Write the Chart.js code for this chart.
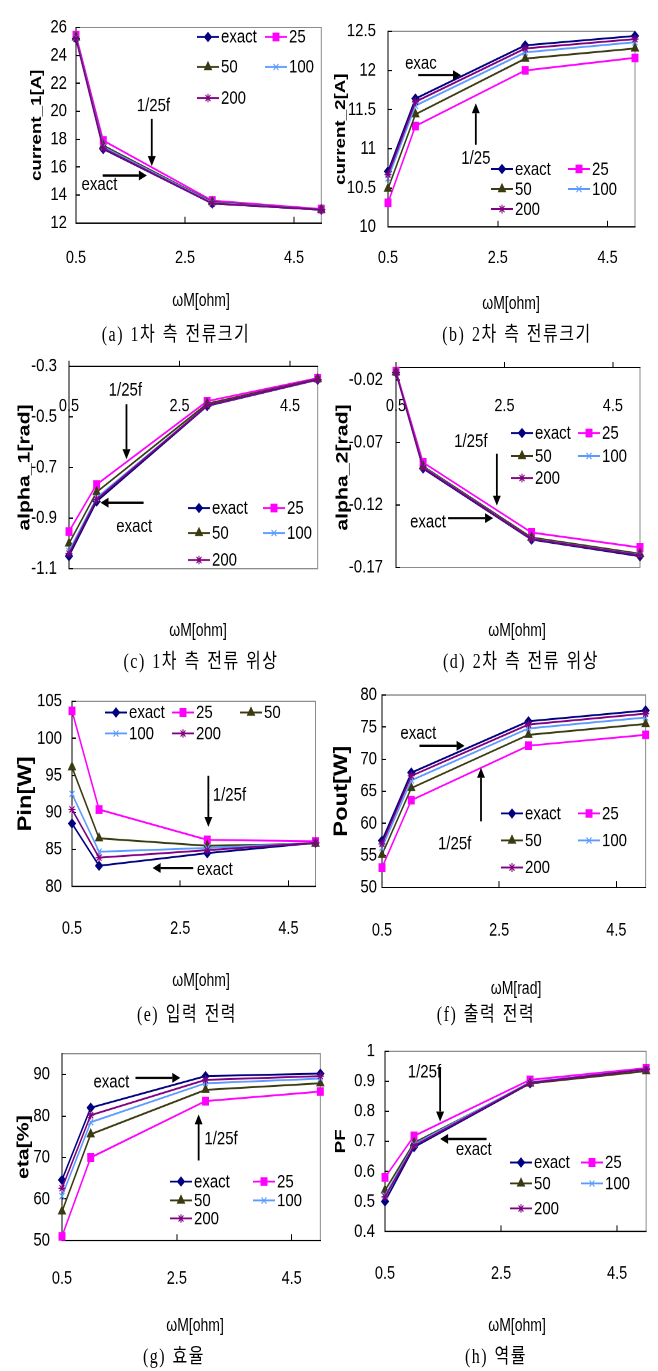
<!DOCTYPE html>
<html>
<head>
<meta charset="utf-8">
<script src="https://cdn.jsdelivr.net/npm/chart.js@4.4.1/dist/chart.umd.min.js"></script>
<style>
  body { margin: 0; background: #fff; width: 658px; height: 1371px; overflow: hidden; position: relative; }
  #wrap { position: absolute; left: 0; top: 0; width: 658px; transform-origin: 0 0; }
  .pane { position: absolute; }
  .xt { position: absolute; transform: translate(-50%, -50%); white-space: nowrap;
        font-family: "Liberation Sans", Arial, sans-serif; font-size: 14px; color: #000; }
  .cap { position: absolute; transform: translate(-50%, -50%); white-space: nowrap;
         font-family: "Liberation Serif", "Noto Sans CJK KR", serif; font-size: 16px;
         letter-spacing: 1.5px; word-spacing: 1px; color: #000; }
</style>
</head>
<body>
<div id="wrap"></div>
<script>
// the source picture is stretched vertically, so everything is drawn flat and scaled in y
const S = 1.25

/* DATA */
const wM = [0.5, 1, 3, 5]
const xTicks = [0.5, 2.5, 4.5]
const seriesNames = ["exact", "25", "50", "100", "200"]

// rows follow seriesNames: exact, 25, 50, 100, 200
const current1 = [
    [25.2, 17.3, 13.4, 12.95],
    [25.45, 17.9, 13.6, 13.0],
    [25.3, 17.55, 13.5, 12.95],
    [25.25, 17.45, 13.45, 12.95],
    [25.2, 17.35, 13.4, 12.95]
]
const current1Ticks = [12, 14, 16, 18, 20, 22, 24, 26]

const current2 = [
    [10.71, 11.64, 12.32, 12.44],
    [10.31, 11.29, 12.0, 12.16],
    [10.49, 11.44, 12.15, 12.28],
    [10.62, 11.55, 12.23, 12.36],
    [10.67, 11.6, 12.28, 12.4]
]
const current2Ticks = [10, 10.5, 11, 11.5, 12, 12.5]

const alpha1 = [
    [-1.05, -0.834, -0.457, -0.353],
    [-0.953, -0.767, -0.438, -0.347],
    [-1.0, -0.797, -0.448, -0.35],
    [-1.03, -0.82, -0.455, -0.352],
    [-1.04, -0.826, -0.455, -0.352]
]
const alpha1Ticks = [-1.1, -0.9, -0.7, -0.5, -0.3]

const alpha2 = [
    [-0.014, -0.0908, -0.1477, -0.161],
    [-0.0128, -0.086, -0.142, -0.154],
    [-0.0138, -0.089, -0.146, -0.159],
    [-0.014, -0.0898, -0.147, -0.16],
    [-0.014, -0.0902, -0.1472, -0.1603]
]
const alpha2Ticks = [-0.17, -0.12, -0.07, -0.02]

const pIn = [
    [88.5, 82.8, 84.5, 85.9],
    [103.7, 90.4, 86.3, 86.1],
    [96.1, 86.5, 85.5, 85.8],
    [92.5, 84.7, 85.2, 85.9],
    [90.4, 83.9, 84.9, 85.9]
]
const pInTicks = [80, 85, 90, 95, 100, 105]

const pOut = [
    [57.3, 67.9, 75.9, 77.6],
    [53.1, 63.6, 72.1, 73.8],
    [55.1, 65.5, 73.8, 75.5],
    [56.2, 66.7, 74.8, 76.5],
    [56.8, 67.4, 75.4, 77.1]
]
const pOutTicks = [50, 55, 60, 65, 70, 75, 80]

const eta = [
    [64.6, 82.0, 89.6, 90.2],
    [51.0, 70.0, 83.6, 85.9],
    [57.0, 75.6, 86.3, 87.9],
    [60.7, 78.5, 87.9, 89.0],
    [62.6, 80.2, 88.7, 89.6]
]
const etaTicks = [50, 60, 70, 80, 90]

const pf = [
    [0.5, 0.681, 0.893, 0.941],
    [0.58, 0.718, 0.905, 0.944],
    [0.537, 0.695, 0.893, 0.934],
    [0.52, 0.69, 0.897, 0.94],
    [0.515, 0.685, 0.895, 0.94]
]
const pfTicks = [0.4, 0.5, 0.6, 0.7, 0.8, 0.9, 1]

/* LOOK */
const seriesLook = [
    {color: "#000080", style: "rectRot", radius: 3.5},
    {color: "#ff00ff", style: "rect", radius: 4.2},
    {color: "#3b3b12", style: "triangle", radius: 4},
    {color: "#5b9bff", style: "crossRot", radius: 3.5},
    {color: "#800080", style: "star", radius: 3.5}
]
const FONT = "\"Liberation Sans\", Arial, sans-serif"

// page coordinates below are measured on the (stretched) picture
const panels = [
    {box: {x: 0, y: 0, w: 329, h: 285}, plot: {l: 76, t: 17, r: 326, b: 223}, xLabelY: 258,
     values: current1, yTicks: current1Ticks, yMax: 26, title: "current_1[A]", titleSize: 15, titleX: 37, tickPad: 9,
     legend: {cols: [197, 265], rows: [37, 67, 98]},
     notes: [["1/25f", 1.92, 20.36], ["exact", 0.93, 14.72]],
     arrows: [[1.89, 19.47, 1.89, 16.07], [0.99, 15.4, 1.8, 15.4]],
     xTitle: "ωM[ohm]", xTitlePos: [201, 300], caption: "(a) 1차 측 전류크기", capPos: [176, 332]},
    {box: {x: 329, y: 0, w: 329, h: 285}, plot: {l: 388, t: 14, r: 635, b: 227}, xLabelY: 258,
     values: current2, yTicks: current2Ticks, yMax: 12.5, title: "current_2[A]", titleSize: 15, titleX: 341, tickPad: 12,
     legend: {cols: [491, 568], rows: [169, 189, 209]},
     notes: [["exac", 1.1, 12.09], ["1/25", 2.1, 10.87]],
     arrows: [[1.05, 11.94, 1.83, 11.94], [2.1, 11.05, 2.1, 11.58]],
     xTitle: "ωM[ohm]", xTitlePos: [511, 303], caption: "(b) 2차 측 전류크기", capPos: [517, 332]},
    {box: {x: 0, y: 335, w: 329, h: 265}, plot: {l: 69, t: 362, r: 328, b: 580}, xLabelY: 402, topAxis: true,
     values: alpha1, yTicks: alpha1Ticks, yMax: -0.3, title: "alpha_1[rad]", titleSize: 17, titleX: 25, tickPad: 12,
     legend: {cols: [188, 263], rows: [508, 533, 560]},
     notes: [["1/25f", 1.52, -0.395], ["exact", 1.68, -0.935]],
     arrows: [[1.54, -0.45, 1.54, -0.667], [1.85, -0.839, 1.07, -0.839]],
     xTitle: "ωM[ohm]", xTitlePos: [198, 630], caption: "(c) 1차 측 전류 위상", capPos: [201, 659]},
    {box: {x: 329, y: 335, w: 329, h: 265}, plot: {l: 396, t: 359, r: 640, b: 582}, xLabelY: 398, topAxis: true,
     values: alpha2, yTicks: alpha2Ticks, yMax: -0.01, title: "alpha_2[rad]", titleSize: 17, titleX: 343, tickPad: 13,
     legend: {cols: [511, 578], rows: [433, 456, 478]},
     notes: [["1/25f", 1.88, -0.0696], ["exact", 1.09, -0.1341]],
     arrows: [[2.36, -0.0789, 2.36, -0.1205], [1.46, -0.1305, 2.29, -0.1305]],
     xTitle: "ωM[ohm]", xTitlePos: [517, 630], caption: "(d) 2차 측 전류 위상", capPos: [521, 659]},
    {box: {x: 0, y: 672, w: 329, h: 278}, plot: {l: 72, t: 687, r: 329, b: 886}, xLabelY: 928,
     values: pIn, yTicks: pInTicks, yMax: 105, title: "Pin[W]", titleSize: 19, titleX: 26, tickPad: 10,
     legend: {cols: [105, 172, 240], rows: [712, 733]},
     notes: [["1/25f", 3.41, 92.3], ["exact", 3.14, 82.26]],
     arrows: [[3.02, 94.95, 3.02, 88.04], [2.74, 82.5, 1.99, 82.5]],
     xTitle: "ωM[ohm]", xTitlePos: [201, 980], caption: "(e) 입력 전력", capPos: [187, 1013]},
    {box: {x: 329, y: 672, w: 329, h: 278}, plot: {l: 382, t: 686, r: 650, b: 887}, xLabelY: 930,
     values: pOut, yTicks: pOutTicks, yMax: 80, title: "Pout[W]", titleSize: 19, titleX: 342, tickPad: 5,
     legend: {cols: [501, 578], rows: [813, 840, 867]},
     notes: [["exact", 1.12, 74.03], ["1/25f", 1.74, 56.72]],
     arrows: [[1.14, 72.09, 1.91, 72.09], [2.19, 60.3, 2.19, 68.66]],
     xTitle: "ωM[rad]", xTitlePos: [516, 987], caption: "(f) 출력 전력", capPos: [486, 1013]},
    {box: {x: 0, y: 1022, w: 329, h: 273}, plot: {l: 62, t: 1037, r: 329, b: 1240}, xLabelY: 1278,
     values: eta, yTicks: etaTicks, yMax: 95, title: "eta[%]", titleSize: 17, titleX: 24, tickPad: 12,
     legend: {cols: [170, 253], rows: [1181, 1200, 1218]},
     notes: [["exact", 1.36, 88.1], ["1/25f", 3.27, 74.4]],
     arrows: [[1.78, 89.2, 2.56, 89.2], [2.88, 69.3, 2.88, 80.4]],
     xTitle: "ωM[ohm]", xTitlePos: [195, 1325], caption: "(g) 효율", capPos: [174, 1354]},
    {box: {x: 329, y: 1022, w: 329, h: 273}, plot: {l: 385, t: 1036, r: 650, b: 1231}, xLabelY: 1273,
     values: pf, yTicks: pfTicks, yMax: 1, title: "PF", titleSize: 15, titleX: 341, tickPad: 10,
     legend: {cols: [510, 581], rows: [1162, 1183, 1208]},
     notes: [["1/25f", 1.18, 0.929], ["exact", 2.03, 0.671]],
     arrows: [[1.45, 0.948, 1.45, 0.766], [2.25, 0.708, 1.45, 0.708]],
     xTitle: "ωM[ohm]", xTitlePos: [517, 1325], caption: "(h) 역률", capPos: [496, 1354]}
]

function u(v) { return v / S }

function fmt(v) { return String(Math.round(v * 1000) / 1000) }

function marker(ctx, look, x, y) {
    if (Chart.helpers && Chart.helpers.drawPoint) {
        Chart.helpers.drawPoint(ctx, {pointStyle: look.style, radius: look.radius, rotation: 0, borderWidth: 1}, x, y)
    } else {
        ctx.fillRect(x - 3, y - 3, 6, 6)
    }
}

function drawArrow(ctx, x1, y1, x2, y2) {
    const ang = Math.atan2(y2 - y1, x2 - x1)
    const hl = 8, hw = 4
    const bx = x2 - hl * Math.cos(ang), by = y2 - hl * Math.sin(ang)
    ctx.lineWidth = 1.8
    ctx.beginPath(); ctx.moveTo(x1, y1); ctx.lineTo(bx, by); ctx.stroke()
    ctx.beginPath()
    ctx.moveTo(x2, y2)
    ctx.lineTo(bx + hw * Math.sin(ang), by - hw * Math.cos(ang))
    ctx.lineTo(bx - hw * Math.sin(ang), by + hw * Math.cos(ang))
    ctx.closePath(); ctx.fill()
}

// plot frame, arrows with their notes, and the in-plot legend
const decoPlugin = {
    id: "deco",
    beforeDraw(chart) {
        const a = chart.chartArea, ctx = chart.ctx
        ctx.save()
        ctx.strokeStyle = "#8c8c8c"; ctx.lineWidth = 1
        ctx.strokeRect(a.left, a.top, a.right - a.left, a.bottom - a.top)
        ctx.restore()
    },
    afterDatasetsDraw(chart, args, opts) {
        const ctx = chart.ctx, xs = chart.scales.x, ys = chart.scales.y
        ctx.save()
        ctx.fillStyle = "#000"; ctx.strokeStyle = "#000"
        ctx.font = "15px " + FONT
        ctx.textAlign = "center"; ctx.textBaseline = "middle"
        opts.notes.forEach(n => ctx.fillText(n[0], xs.getPixelForValue(n[1]), ys.getPixelForValue(n[2])))
        opts.arrows.forEach(r => drawArrow(ctx,
            xs.getPixelForValue(r[0]), ys.getPixelForValue(r[1]),
            xs.getPixelForValue(r[2]), ys.getPixelForValue(r[3])))

        const L = opts.legend
        ctx.textAlign = "left"
        chart.data.datasets.forEach((ds, i) => {
            const col = i % L.cols.length, row = Math.floor(i / L.cols.length)
            const x0 = L.cols[col] - opts.ox, y0 = u(L.rows[row]) - opts.oy
            const look = seriesLook[i]
            ctx.strokeStyle = look.color; ctx.fillStyle = look.color; ctx.lineWidth = 1.5
            ctx.beginPath(); ctx.moveTo(x0, y0); ctx.lineTo(x0 + 22, y0); ctx.stroke()
            ctx.lineWidth = 1
            marker(ctx, look, x0 + 11, y0)
            ctx.fillStyle = "#000"
            ctx.fillText(ds.label, x0 + 24, y0 + 0.5)
        })
        ctx.restore()
    }
}

const wrap = document.getElementById("wrap")
wrap.style.height = u(1371) + "px"
wrap.style.transform = "scaleY(" + S + ")"

function addText(cls, text, pos) {
    const d = document.createElement("div")
    d.className = cls
    d.textContent = text
    d.style.left = pos[0] + "px"
    d.style.top = u(pos[1]) + "px"
    wrap.appendChild(d)
}

function makePanel(p) {
    const holder = document.createElement("div")
    holder.className = "pane"
    holder.style.left = p.box.x + "px"
    holder.style.top = u(p.box.y) + "px"
    holder.style.width = p.box.w + "px"
    holder.style.height = u(p.box.h) + "px"
    const cv = document.createElement("canvas")
    holder.appendChild(cv)
    wrap.appendChild(holder)

    const tl = -5     // x ticks point up
    const ytl = -4    // y ticks point into the plot
    const xFont = 14.5
    const axisY = p.topAxis ? p.plot.t : p.plot.b
    const xPad = u(p.xLabelY) - u(axisY) - tl - xFont * 1.2 / 2
    const xAxisH = u(p.box.y + p.box.h) - u(p.plot.b)

    const datasets = p.values.map((vals, i) => ({
        label: seriesNames[i],
        data: wM.map((x, k) => ({x: x, y: vals[k]})),
        borderColor: seriesLook[i].color,
        backgroundColor: seriesLook[i].color,
        pointBorderColor: seriesLook[i].color,
        pointBackgroundColor: seriesLook[i].color,
        pointStyle: seriesLook[i].style,
        pointRadius: seriesLook[i].radius,
        pointBorderWidth: 1,
        borderWidth: 1.5,
        tension: 0,
        clip: false,
        order: 5 - i
    }))

    return new Chart(cv, {
        type: "line",
        data: {datasets: datasets},
        options: {
            responsive: true,
            maintainAspectRatio: false,
            animation: false,
            events: [],
            devicePixelRatio: 2,
            layout: {padding: {
                top: u(p.plot.t) - u(p.box.y),
                left: 0,
                right: p.box.x + p.box.w - p.plot.r,
                bottom: p.topAxis ? xAxisH : 0
            }},
            plugins: {
                legend: {display: false},
                tooltip: {enabled: false},
                deco: {legend: p.legend, notes: p.notes, arrows: p.arrows, ox: p.box.x, oy: u(p.box.y)}
            },
            scales: {
                x: {
                    type: "linear",
                    min: 0.5,
                    max: 5,
                    position: p.topAxis ? {y: p.yMax} : "bottom",
                    afterBuildTicks: s => { s.ticks = xTicks.map(v => ({value: v})) },
                    afterFit: s => { if (!p.topAxis) s.height = xAxisH },
                    grid: {display: true, drawOnChartArea: false, drawTicks: true, tickLength: tl, color: "#000", lineWidth: 1},
                    border: {display: true, color: "#000", width: 1},
                    ticks: {padding: xPad, color: "#000", autoSkip: false, maxRotation: 0,
                            font: {family: FONT, size: xFont}, callback: v => fmt(v)}
                },
                y: {
                    type: "linear",
                    min: p.yTicks[0],
                    max: p.yMax,
                    afterBuildTicks: s => { s.ticks = p.yTicks.map(v => ({value: v})) },
                    afterFit: s => { s.width = p.plot.l - p.box.x },
                    grid: {display: true, drawOnChartArea: false, drawTicks: true, tickLength: ytl, color: "#000", lineWidth: 1},
                    border: {display: true, color: "#000", width: 1},
                    ticks: {padding: p.tickPad - ytl, color: "#000", autoSkip: false,
                            font: {family: FONT, size: 15}, callback: v => fmt(v)},
                    title: {display: true, text: p.title, color: "#000",
                            font: {family: FONT, size: p.titleSize, weight: "bold"},
                            padding: {top: p.titleX - p.box.x - p.titleSize * 1.2 / 2, bottom: 0}}
                }
            }
        },
        plugins: [decoPlugin]
    })
}

panels.forEach(p => {
    makePanel(p)
    addText("xt", p.xTitle, p.xTitlePos)
    addText("cap", p.caption, p.capPos)
})
</script>
</body>
</html>
